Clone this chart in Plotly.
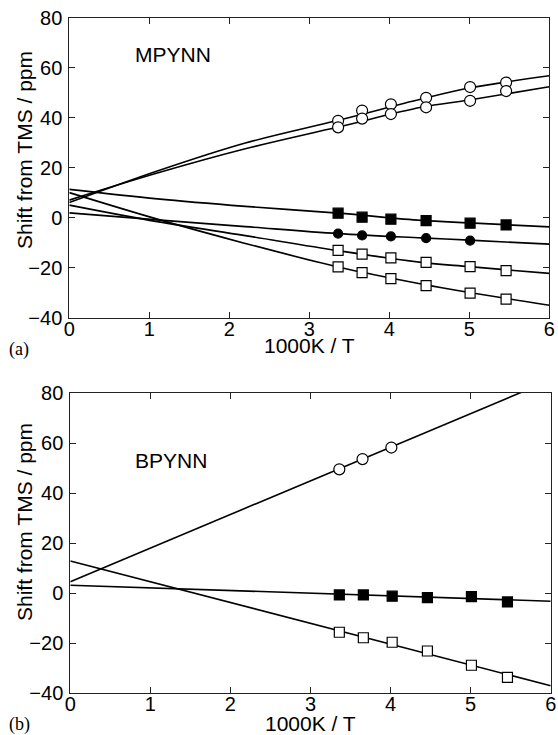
import plotly.graph_objects as go

# ---------------- data: panel (a) MPYNN ----------------
a_x = [3.36, 3.66, 4.02, 4.46, 5.01, 5.46]
a_circ_up = [38.7, 42.8, 45.3, 47.9, 52.2, 54.0]
a_circ_lo = [36.1, 39.6, 41.4, 44.1, 46.7, 50.6]
a_fsq = [1.8, 0.2, -0.6, -1.2, -2.2, -2.9]
a_fcirc_x = [3.36, 3.66, 4.02, 4.46, 5.01]
a_fcirc = [-6.4, -7.1, -7.5, -8.2, -9.2]
a_osq_up = [-13.1, -14.6, -16.1, -17.9, -19.6, -21.2]
a_osq_lo = [-19.7, -22.0, -24.4, -27.2, -30.2, -32.6]

# fitted curves
a_fit_x = [0, 1.1, 2.2, 3.36, 4.4, 5.0, 6.0]
a_fit_circ_up = [6.0, 18.6, 29.8, 38.9, 47.4, 51.8, 56.7]
a_fit_circ_lo = [7.0, 17.8, 27.5, 36.2, 44.1, 47.0, 52.3]
a_fit_fsq = [11.3, 7.5, 4.5, 1.8, -1.1, -2.1, -3.7]
a_fit_fcirc = [1.9, -0.9, -3.6, -6.4, -8.1, -9.0, -10.6]
a_fit_osq_up = [5.0, -1.6, -7.2, -13.2, -17.9, -19.6, -22.3]
a_fit_osq_lo = [10.0, -0.6, -10.3, -19.7, -26.5, -29.9, -35.0]

# ---------------- data: panel (b) BPYNN ----------------
b_circ_x = [3.36, 3.65, 4.01]
b_circ = [49.5, 53.6, 58.2]
b_x = [3.36, 3.66, 4.02, 4.46, 5.01, 5.46]
b_fsq = [-0.7, -0.7, -1.2, -1.8, -1.4, -3.5]
b_osq = [-15.6, -17.8, -19.6, -23.1, -28.8, -33.6]

b_fit_x = [0, 6.0]
b_fit_circ = [4.6, 85.2]
b_fit_fsq = [3.2, -3.2]
b_fit_osq = [12.9, -37.0]

x_ticks = [0, 1, 2, 3, 4, 5, 6]
y_ticks = [-40, -20, 0, 20, 40, 60, 80]

x_title = "1000K / T"
y_title = "Shift from TMS / ppm"

fig = go.Figure()

LINE = dict(color="black", width=1.6)


def add_line(x, y, xa, ya, shape="spline"):
    fig.add_trace(go.Scatter(x=x, y=y, mode="lines", line=dict(LINE, shape=shape),
                             xaxis=xa, yaxis=ya, showlegend=False, hoverinfo="skip"))


def add_markers(x, y, xa, ya, symbol, fill, size=11):
    fig.add_trace(go.Scatter(x=x, y=y, mode="markers",
                             marker=dict(symbol=symbol, size=size, color=fill,
                                         line=dict(color="black", width=1.2)),
                             xaxis=xa, yaxis=ya, showlegend=False))


# panel (a)
for yy in [a_fit_circ_up, a_fit_circ_lo, a_fit_fsq, a_fit_fcirc, a_fit_osq_up, a_fit_osq_lo]:
    add_line(a_fit_x, yy, "x", "y")
add_markers(a_x, a_circ_up, "x", "y", "circle", "white")
add_markers(a_x, a_circ_lo, "x", "y", "circle", "white")
add_markers(a_x, a_fsq, "x", "y", "square", "black", 10)
add_markers(a_fcirc_x, a_fcirc, "x", "y", "circle", "black", 9)
add_markers(a_x, a_osq_up, "x", "y", "square", "white", 10)
add_markers(a_x, a_osq_lo, "x", "y", "square", "white", 10)

# panel (b)
for yy in [b_fit_circ, b_fit_fsq, b_fit_osq]:
    add_line(b_fit_x, yy, "x2", "y2", shape="linear")
add_markers(b_circ_x, b_circ, "x2", "y2", "circle", "white")
add_markers(b_x, b_fsq, "x2", "y2", "square", "black", 10)
add_markers(b_x, b_osq, "x2", "y2", "square", "white", 10)

SANS = "Liberation Sans, Arial, Helvetica, sans-serif"
SERIF = "Liberation Serif, Times New Roman, serif"
FONT = dict(family=SANS, size=21, color="black")
TFONT = dict(family=SANS, size=20, color="black")

axis_common = dict(showline=True, linecolor="#222", linewidth=1, mirror="ticks",
                   ticks="inside", ticklen=6, tickcolor="#222", tickwidth=1,
                   showgrid=False, zeroline=False, tickfont=TFONT, automargin=False)
xax = dict(axis_common, range=[0, 6], tickvals=x_ticks, ticklabelstandoff=-7)
yax = dict(axis_common, range=[-40, 80], tickvals=y_ticks, ticklabelstandoff=2)

W, H = 558, 735


def px_x(v):
    return v / W


def px_y(v):
    return 1 - v / H


def note(text, x, y, font, angle=0, xanchor="center"):
    return dict(text=text, x=px_x(x), y=px_y(y), xref="paper", yref="paper",
                xanchor=xanchor, yanchor="middle", showarrow=False, textangle=angle, font=font)


fig.update_layout(
    width=W, height=H,
    margin=dict(l=0, r=0, t=0, b=0, autoexpand=False),
    paper_bgcolor="white", plot_bgcolor="white",
    font=FONT,
    xaxis=dict(xax, domain=[px_x(69.3), px_x(549.3)], anchor="y"),
    yaxis=dict(yax, domain=[px_y(317.7), px_y(17.5)], anchor="x"),
    xaxis2=dict(xax, domain=[px_x(70.3), px_x(550.7)], anchor="y2"),
    yaxis2=dict(yax, domain=[px_y(693.3), px_y(393)], anchor="x2"),
    annotations=[
        note(x_title, 309, 345, FONT),
        note(x_title, 310, 723, FONT),
        note(y_title, 24, 150, FONT, angle=-90),
        note(y_title, 24, 522, FONT, angle=-90),
        note("MPYNN", 133, 55, FONT, xanchor="left"),
        note("BPYNN", 133, 460, FONT, xanchor="left"),
        note("(a)", 7, 349, dict(family=SERIF, size=18, color="black"), xanchor="left"),
        note("(b)", 7, 724, dict(family=SERIF, size=18, color="black"), xanchor="left"),
    ],
)

fig.write_html("out.html", config={"displayModeBar": False},
               post_script="document.body.style.margin='0';document.body.style.padding='0';"
                           "document.body.style.overflow='hidden';")
